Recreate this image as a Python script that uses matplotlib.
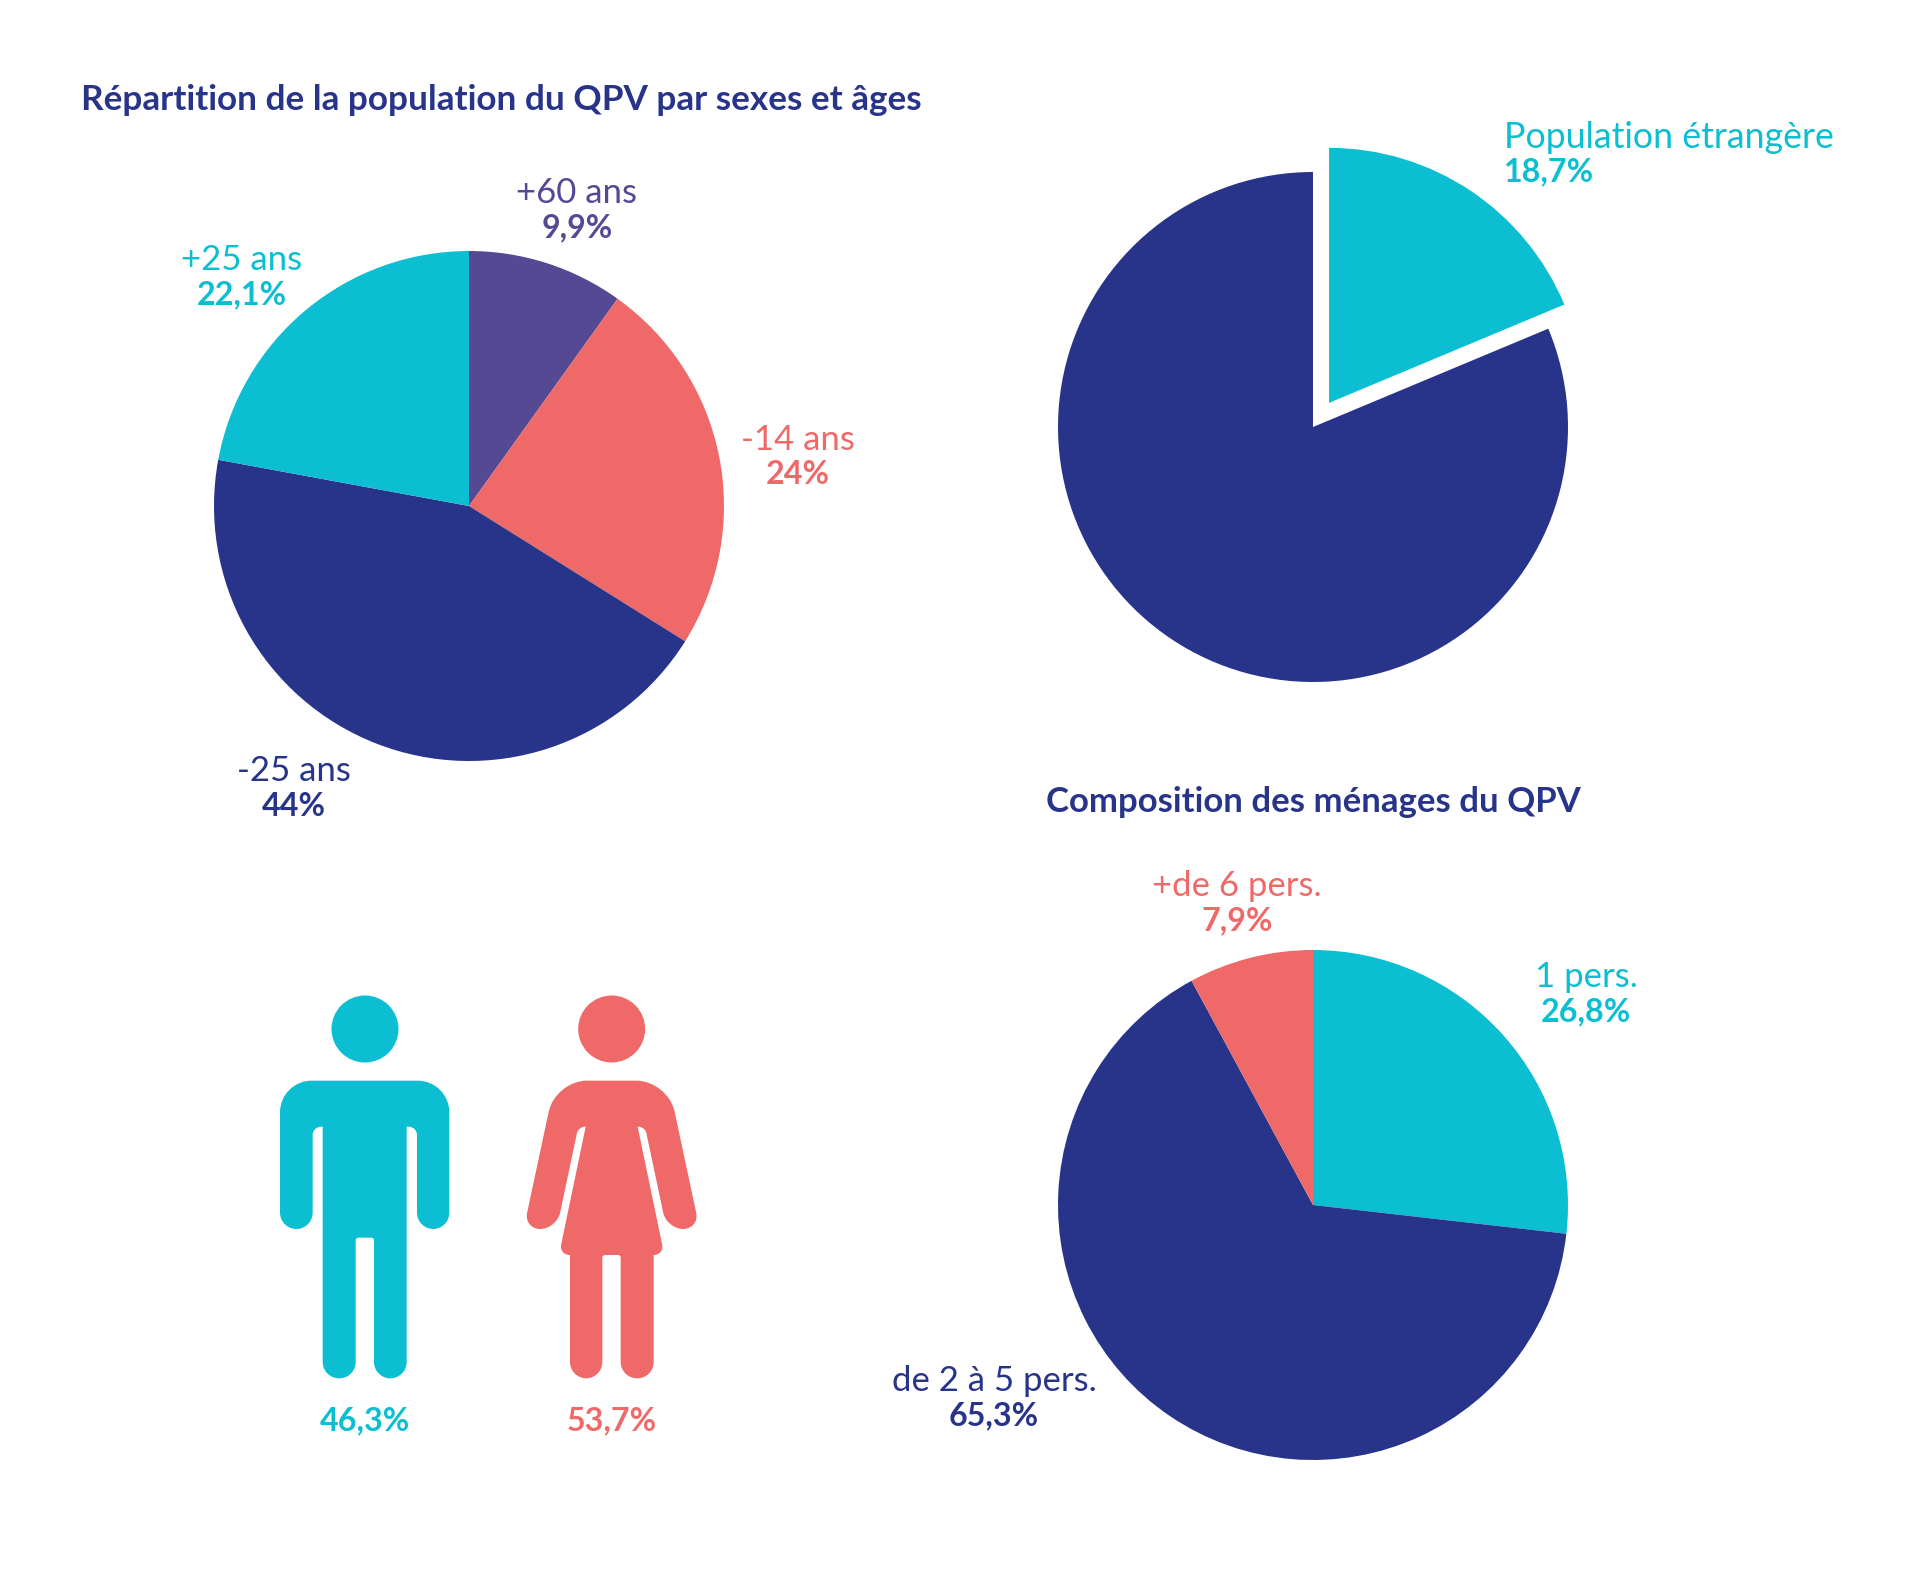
import matplotlib
matplotlib.use("Agg")
import matplotlib.pyplot as plt
from matplotlib.path import Path
from matplotlib.patches import PathPatch, Circle
from matplotlib.transforms import Affine2D
import numpy as np

W, H = 1920, 1581
NAVY, TEAL, CORAL, PURPLE = "#28348A", "#0BBED1", "#F06969", "#554994"
FONT = "Lato"

age_labels = ["+60 ans", "-14 ans", "-25 ans", "+25 ans"]
age_values = [9.9, 24, 44, 22.1]
age_colors = [PURPLE, CORAL, NAVY, TEAL]

foreign_label = "Population étrangère"
foreign_values = [18.7, 81.3]
foreign_colors = [TEAL, NAVY]

household_labels = ["1 pers.", "de 2 à 5 pers.", "+de 6 pers."]
household_values = [26.8, 65.3, 7.9]
household_colors = [TEAL, NAVY, CORAL]

sex_values = [46.3, 53.7]
sex_colors = [TEAL, CORAL]

title_age = "Répartition de la population du QPV par sexes et âges"
title_house = "Composition des ménages du QPV"


def fmt(v):
    return f"{v:g}".replace(".", ",") + "%"


fig = plt.figure(figsize=(W / 100, H / 100), dpi=100, facecolor="white")
ax = fig.add_axes([0, 0, 1, 1])


def Y(y):
    return H - y


R = 255
ax.pie(age_values, colors=age_colors, startangle=90, counterclock=False,
       radius=R, center=(469, Y(506)), frame=True)
ax.pie(foreign_values, colors=foreign_colors, startangle=90, counterclock=False,
       radius=R, center=(1313, Y(427)), explode=[29, 0], frame=True)
ax.pie(household_values, colors=household_colors, startangle=90, counterclock=False,
       radius=R, center=(1313, Y(1205)), frame=True)
ax.set_xlim(0, W)
ax.set_ylim(0, H)
ax.set_aspect("equal")
ax.axis("off")

LABEL_FS = 25
VALUE_FS = 23.2


def label(x, y, name, value, color, ha="center", fs=LABEL_FS):
    if name:
        ax.text(x, Y(y + 2), name, color=color, fontsize=fs, family=FONT,
                ha=ha, va="center", fontweight="normal")
    ax.text(x, Y(y + 37), fmt(value), color=color, fontsize=VALUE_FS, family=FONT,
            ha=ha, va="center", fontweight="bold")


label(577, 191, age_labels[0], age_values[0], age_colors[0])
label(798, 438, age_labels[1], age_values[1], age_colors[1])
label(294, 769, age_labels[2], age_values[2], age_colors[2])
label(242, 258, age_labels[3], age_values[3], age_colors[3])
label(1504, 135, foreign_label, foreign_values[0], foreign_colors[0], ha="left", fs=25.7)
label(1586, 975, household_labels[0], household_values[0], household_colors[0])
label(994, 1379, household_labels[1], household_values[1], household_colors[1])
label(1237, 884, household_labels[2], household_values[2], household_colors[2])
label(365, 1384, None, sex_values[0], sex_colors[0])
label(612, 1384, None, sex_values[1], sex_colors[1])

ax.text(81, Y(100), title_age, color=NAVY, fontsize=25.3, family=FONT,
        fontweight="bold", ha="left", va="center")
ax.text(1313, Y(802), title_house, color=NAVY, fontsize=25, family=FONT,
        fontweight="bold", ha="center", va="center")


def rounded(pts):
    k = 0.5523
    n = len(pts)
    verts, codes = [], []
    for i, (x, y, r) in enumerate(pts):
        p = np.array([x, y], float)
        a = np.array(pts[i - 1][:2], float)
        b = np.array(pts[(i + 1) % n][:2], float)
        if r == 0:
            verts.append(p)
            codes.append(Path.MOVETO if i == 0 else Path.LINETO)
            continue
        u = (a - p) / np.linalg.norm(a - p)
        v = (b - p) / np.linalg.norm(b - p)
        s = p + u * r
        e = p + v * r
        verts.append(s)
        codes.append(Path.MOVETO if i == 0 else Path.LINETO)
        verts += [s - u * r * k, e - v * r * k, e]
        codes += [Path.CURVE4] * 3
    verts.append(verts[0])
    codes.append(Path.CLOSEPOLY)
    return Path(verts, codes)


man = [(120, 362, 95), (628, 362, 95), (628, 807, 49), (531, 807, 49), (531, 500, 25),
       (500, 500, 0), (500, 1255, 49), (402, 1255, 49), (402, 833, 8), (347, 833, 8),
       (347, 1255, 49), (248, 1255, 49), (248, 500, 0), (218, 500, 25), (218, 807, 49),
       (120, 807, 49)]
woman = [(946, 362, 95), (1284, 362, 95), (1379, 807, 50), (1280, 807, 50), (1215, 500, 20),
         (1193, 500, 0), (1273, 885, 32), (1241, 885, 0), (1241, 1255, 49), (1142, 1255, 49),
         (1142, 885, 8), (1087, 885, 8), (1087, 1255, 49), (990, 1255, 49), (990, 885, 0),
         (957, 885, 32), (1037, 500, 0), (1015, 500, 20), (950, 807, 50), (851, 807, 50)]

icon_tf = Affine2D().scale(1 / 3, -1 / 3).translate(240, H - 960) + ax.transData
ax.add_patch(PathPatch(rounded(man), fc=sex_colors[0], ec="none", transform=icon_tf))
ax.add_patch(PathPatch(rounded(woman), fc=sex_colors[1], ec="none", transform=icon_tf))
ax.add_patch(Circle((375, 207), 100.5, fc=sex_colors[0], ec="none", transform=icon_tf))
ax.add_patch(Circle((1115, 207), 100.5, fc=sex_colors[1], ec="none", transform=icon_tf))

fig.savefig("out.png", dpi=100, facecolor="white")
